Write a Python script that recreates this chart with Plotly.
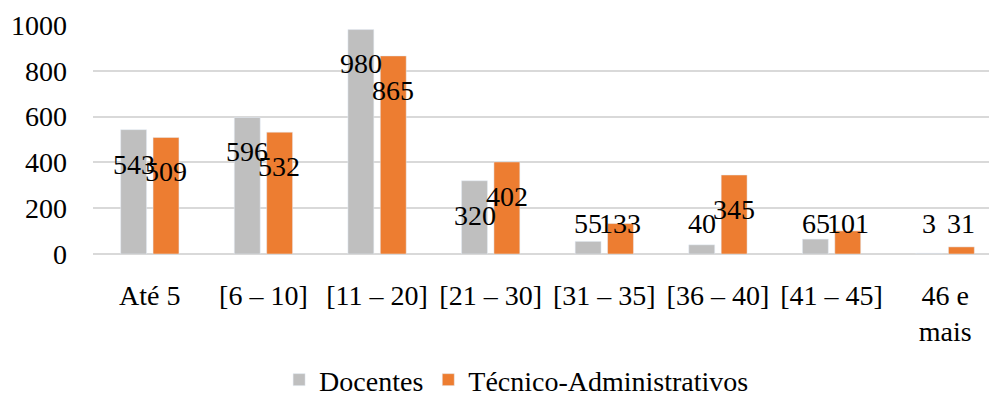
import plotly.graph_objects as go

faixas = ["Até 5", "[6 – 10]", "[11 – 20]", "[21 – 30]", "[31 – 35]",
          "[36 – 40]", "[41 – 45]", "46 e<br>mais"]
docentes = [543, 596, 980, 320, 55, 40, 65, 3]
tecnicos = [509, 532, 865, 402, 133, 345, 101, 31]

FONTE = "Liberation Serif"
CINZA = "#bfbfbf"
LARANJA = "#ed7d31"

fig = go.Figure()
fig.add_trace(go.Bar(x=faixas, y=docentes, name="Docentes", marker_color=CINZA))
fig.add_trace(go.Bar(x=faixas, y=tecnicos, name="Técnico-Administrativos", marker_color=LARANJA))


def pos_rotulo(v):
    # rótulo ~35px abaixo do topo da barra, sem descer abaixo de certo nível
    return max(v - 150, 135)


for serie, desloc in ((docentes, -16), (tecnicos, 16)):
    for cat, v in zip(faixas, serie):
        fig.add_annotation(
            x=cat, y=pos_rotulo(v), text=str(v), showarrow=False,
            xshift=desloc, font=dict(family=FONTE, size=28, color="black"),
        )

# a página tem 8px de margem no body, então desconto isso nas margens
fig.update_layout(
    width=997, height=403,
    margin=dict(l=85, r=3, t=17, b=157),
    barmode="group", bargap=0.43, bargroupgap=0.2,
    plot_bgcolor="white", paper_bgcolor="white",
    font=dict(family=FONTE, size=28, color="black"),
    showlegend=True,
    legend=dict(orientation="h", x=0.466, xanchor="center", y=-0.55, yanchor="middle",
                font=dict(family=FONTE, size=28), itemwidth=30,
                traceorder="normal"),
    xaxis=dict(showgrid=False, showline=False, ticks="", ticklabelstandoff=22,
               tickfont=dict(size=28), automargin=False),
    yaxis=dict(range=[0, 1000], dtick=200, showgrid=True, gridcolor="#d9d9d9",
               gridwidth=1.5, zeroline=True, zerolinecolor="#d9d9d9", zerolinewidth=1.5,
               ticks="", ticklabelstandoff=25, tickfont=dict(size=28), automargin=False),
)

fig.write_html("out.html")
